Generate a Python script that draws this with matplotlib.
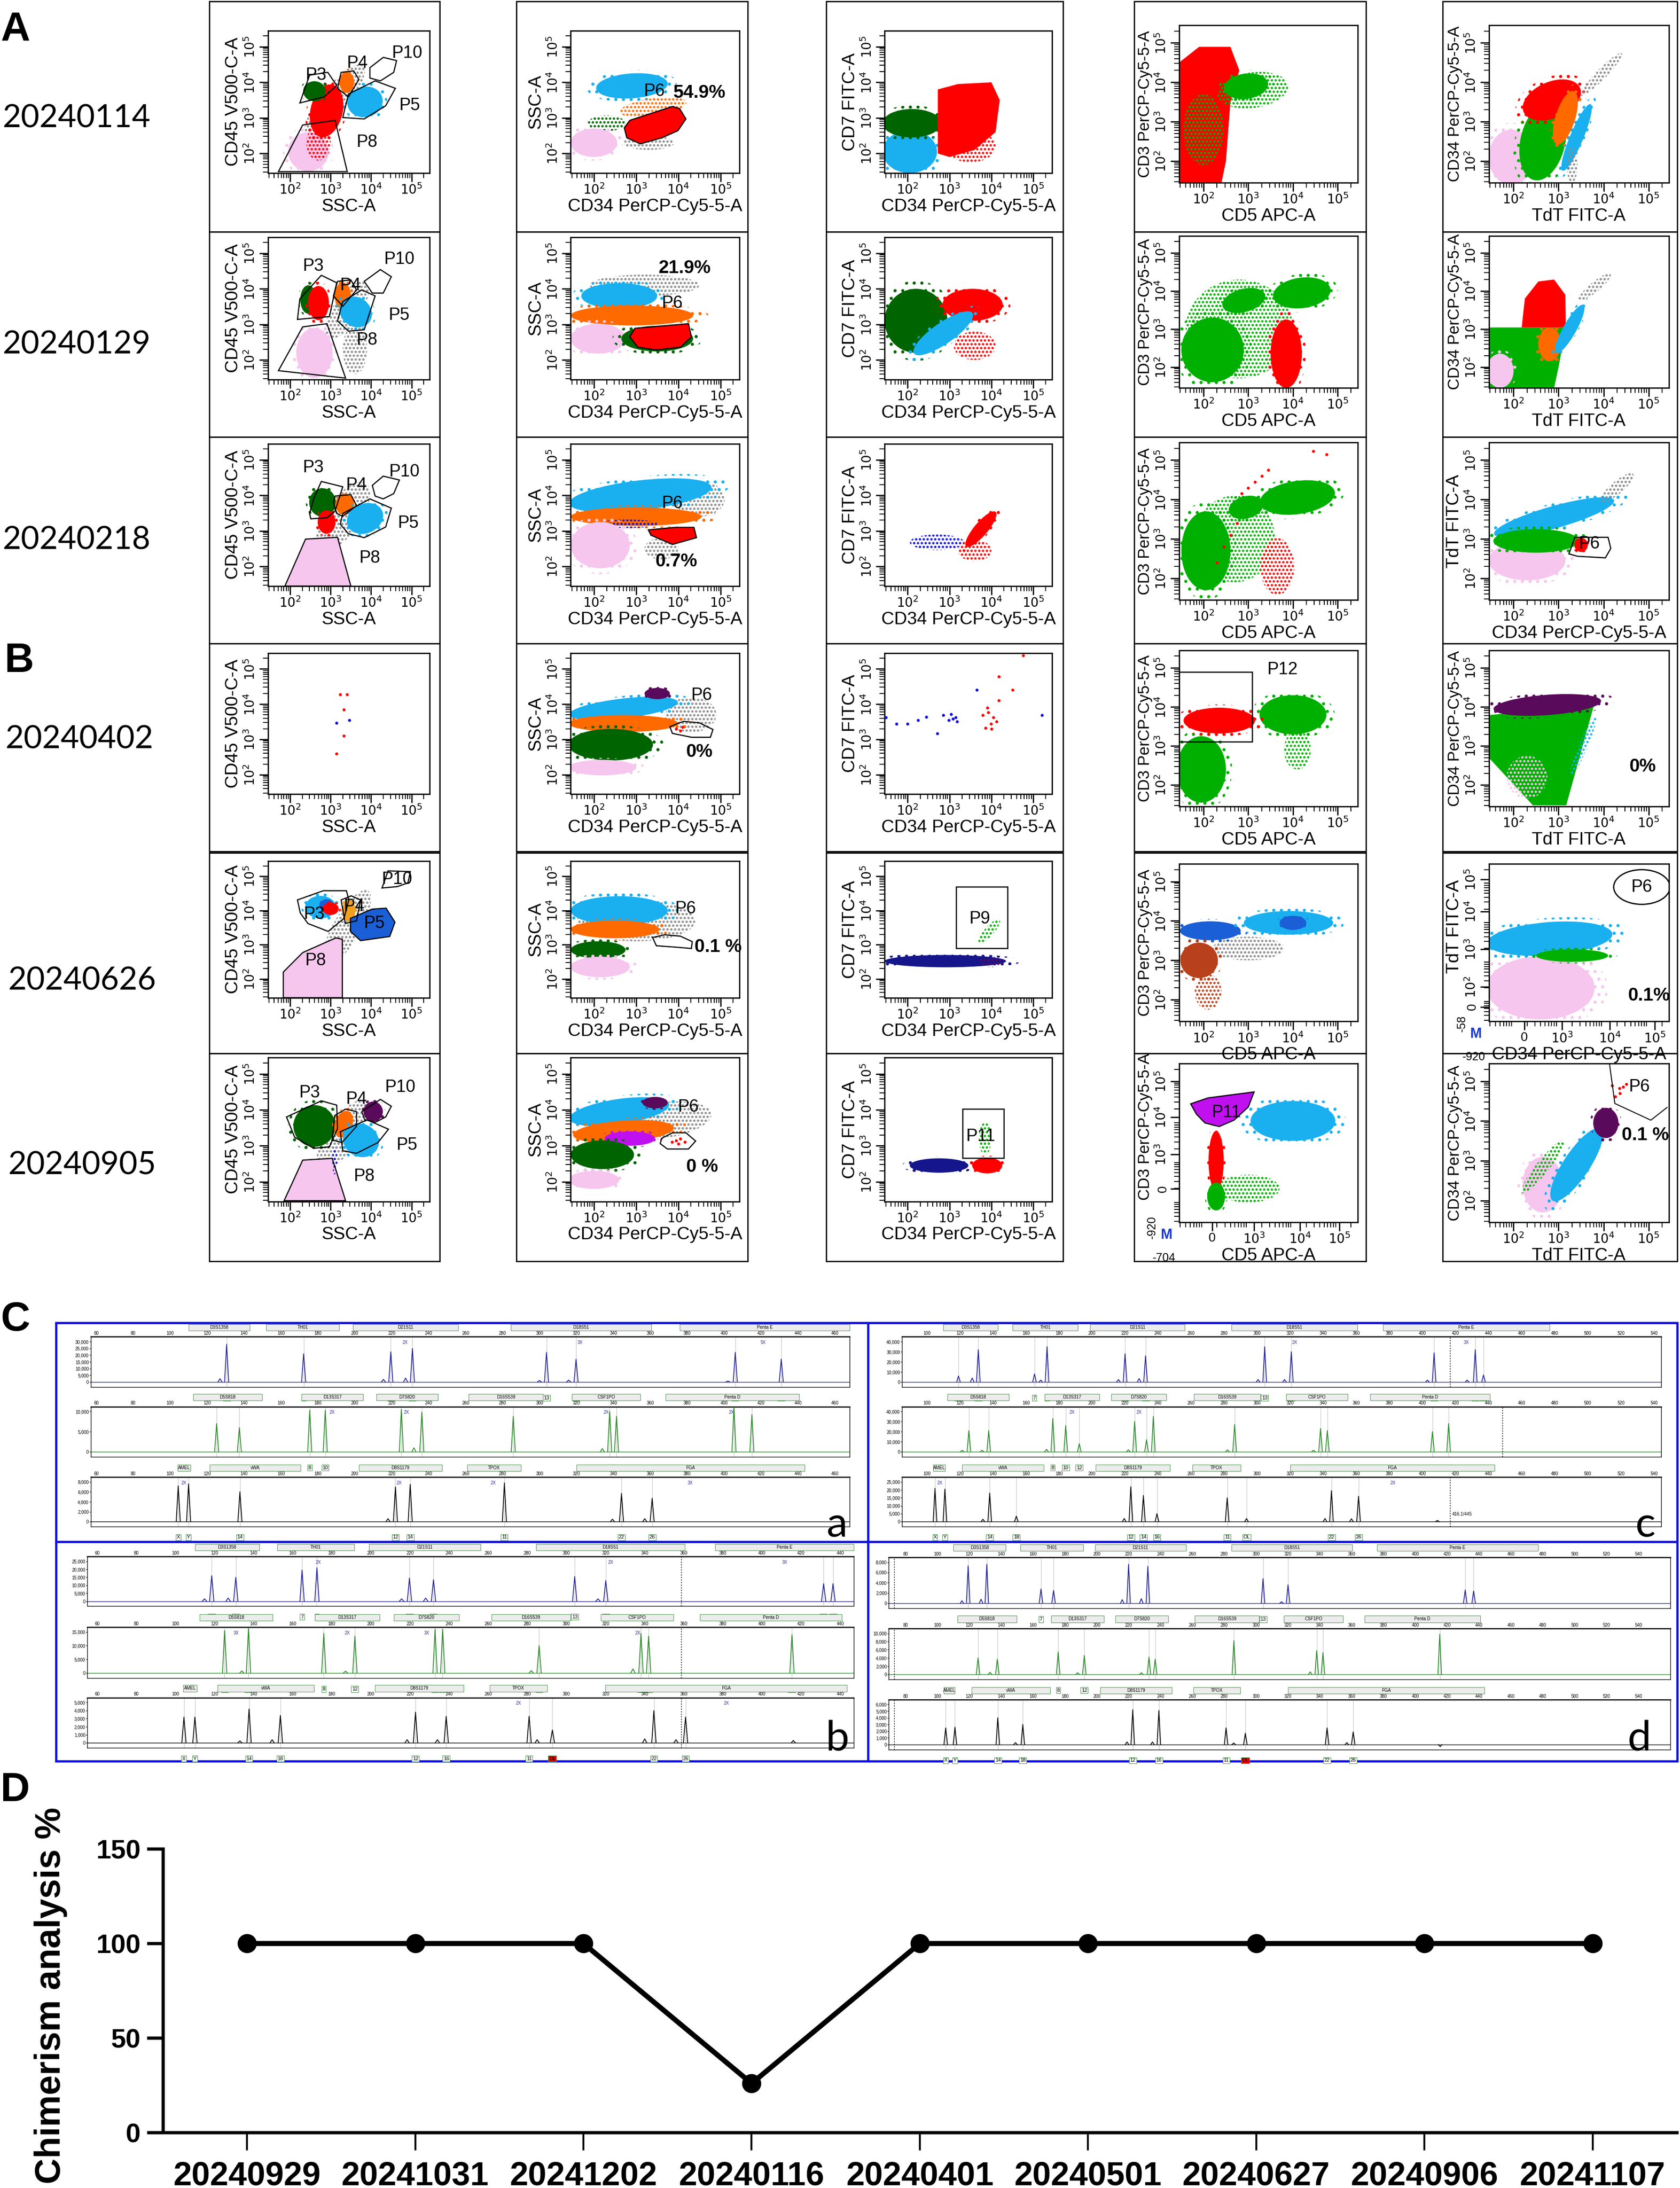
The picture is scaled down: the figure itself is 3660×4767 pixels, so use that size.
import numpy as np
import matplotlib
matplotlib.use("Agg")
import matplotlib.pyplot as plt
from matplotlib import font_manager
from matplotlib.patches import Ellipse, Polygon, Rectangle
from matplotlib.transforms import blended_transform_factory

installed = {f.name for f in font_manager.fontManager.ttflist}
NARROW = 'Liberation Sans Narrow' if 'Liberation Sans Narrow' in installed else 'Liberation Sans'
plt.rcParams['font.family'] = ['Liberation Sans', 'DejaVu Sans']
plt.rcParams['hatch.linewidth'] = 2.5

# colours of the gated populations
RED, DKG, LBL, ORG, PNK = '#ff0000', '#006400', '#1ab0f0', '#ff6a00', '#f6c6ee'
GRY, GRN, BLU, PUR, MAG = '#8c8c8c', '#00b000', '#1010e0', '#5a0a5a', '#c010f0'
DBL, NAV, BRN, AMB = '#1a5fd6', '#16168c', '#b8401a', '#f0a020'

# -------------------------
# Panel A/B: flow cytometry (log10 units, axis 10^1.45 .. 10^5.45)
# pops: (colour, style, ellipse (cx, cy, rx, ry, angle) or polygon points)
# -------------------------
row_dates = ['20240114', '20240129', '20240218', '20240402', '20240626', '20240905']
x_labels = ['SSC-A', 'CD34 PerCP-Cy5-5-A', 'CD34 PerCP-Cy5-5-A', 'CD5 APC-A']
y_labels = ['CD45 V500-C-A', 'SSC-A', 'CD7 FITC-A', 'CD3 PerCP-Cy5-5-A']
c5_x_labels = ['TdT FITC-A', 'TdT FITC-A', 'CD34 PerCP-Cy5-5-A', 'TdT FITC-A', 'CD34 PerCP-Cy5-5-A', 'TdT FITC-A']
c5_y_labels = ['CD34 PerCP-Cy5-5-A', 'CD34 PerCP-Cy5-5-A', 'TdT FITC-A', 'CD34 PerCP-Cy5-5-A', 'TdT FITC-A', 'CD34 PerCP-Cy5-5-A']

# row 1 : 20240114
pops_r1c1 = [(GRY, 'd', (3.1, 3.5, 1.2, 0.35, 55)), (PNK, 's', (2.45, 2.05, 0.5, 0.55, 0)),
             (RED, 'd', (2.7, 2.3, 0.3, 0.5, 0)), (RED, 's', (2.9, 3.2, 0.4, 0.75, -10)),
             (DKG, 's', (2.6, 3.75, 0.28, 0.28, 0)), (ORG, 's', (3.4, 4.0, 0.18, 0.3, 0)),
             (LBL, 's', (3.85, 3.45, 0.45, 0.42, 40))]
gates_r1c1 = [[(2.24, 3.42), (2.48, 4.2), (2.93, 4.28), (3.15, 3.91), (2.84, 3.59)],
              [(3.17, 3.83), (3.26, 4.28), (3.57, 4.32), (3.7, 4.08), (3.44, 3.59)],
              [(3.97, 4.41), (4.3, 4.7), (4.63, 4.61), (4.56, 4.28), (4.23, 4.04), (3.97, 4.12)],
              [(3.3, 3.01), (3.44, 3.67), (4.1, 4.04), (4.6, 3.83), (4.36, 3.34), (3.83, 2.97)],
              [(1.71, 1.49), (2.31, 2.8), (3.11, 2.93), (3.41, 1.49)]]
notes_r1c1 = [(2.64, 4.2, 'P3', 'normal'), (3.67, 4.53, 'P4', 'normal'), (4.89, 4.82, 'P10', 'normal'),
              (4.96, 3.34, 'P5', 'normal'), (3.9, 2.31, 'P8', 'normal')]
p6_r1c2 = [(2.72, 2.72), (2.85, 2.93), (3.86, 3.32), (4.03, 3.26), (4.18, 2.97), (3.99, 2.64),
           (3.61, 2.44), (3.10, 2.27), (2.78, 2.44)]
pops_r1c2 = [(LBL, 's', (2.9, 3.9, 0.85, 0.35, 5)), (ORG, 'd', (3.4, 3.3, 0.8, 0.25, 10)),
             (DKG, 'd', (2.3, 2.85, 0.45, 0.22, 0)), (PNK, 's', (2.0, 2.3, 0.55, 0.4, 0)),
             (GRY, 'd', (3.3, 2.3, 0.6, 0.2, 0)), (RED, 's', p6_r1c2)]
gates_r1c2 = [p6_r1c2]
notes_r1c2 = [(3.44, 3.75, 'P6', 'normal'), (4.5, 3.71, '54.9%', 'bold')]
pops_r1c3 = [(LBL, 's', (2.05, 2.05, 0.65, 0.6, 0)), (DKG, 's', (2.1, 2.85, 0.7, 0.4, 0)),
             (RED, 'd', (3.5, 2.2, 0.6, 0.45, 0)),
             (RED, 's', [(2.72, 2.0), (2.72, 3.8), (3.2, 3.95), (4.0, 4.0), (4.2, 3.5), (4.1, 2.6), (3.6, 2.1), (3.0, 1.9)])]
pops_r1c4 = [(RED, 's', [(1.45, 1.45), (1.45, 4.5), (1.9, 4.9), (2.6, 4.9), (2.8, 4.3), (2.6, 3.5), (2.5, 2.0), (2.4, 1.45)]),
             (GRN, 'd', (2.0, 2.8, 0.45, 0.9, 0)), (GRN, 'd', (3.1, 3.8, 0.8, 0.45, 10)),
             (GRN, 's', (2.95, 3.9, 0.5, 0.32, 10))]
pops_r1c5 = [(PNK, 's', (1.95, 2.1, 0.5, 0.7, 0)), (GRN, 's', (2.65, 2.5, 0.5, 1.0, -10)),
             (RED, 's', (2.85, 3.55, 0.7, 0.45, 30)), (ORG, 's', (3.15, 3.1, 0.22, 0.7, -15)),
             (LBL, 's', (3.4, 2.6, 0.15, 0.9, -20)), (GRY, 'd', (3.95, 4.2, 0.7, 0.12, 50)),
             (GRY, 'd', (3.3, 1.9, 0.12, 0.45, 0))]

# row 2 : 20240129
pops_r2c1 = [(GRY, 'd', (3.4, 3.4, 0.9, 0.35, 60)), (PNK, 's', (2.6, 2.2, 0.45, 0.7, 0)),
             (GRY, 'd', (3.6, 2.3, 0.3, 0.7, 0)), (DKG, 's', (2.45, 3.7, 0.2, 0.4, 0)),
             (RED, 's', (2.7, 3.6, 0.26, 0.48, 0)), (ORG, 's', (3.3, 3.8, 0.2, 0.38, 0)),
             (LBL, 's', (3.62, 3.35, 0.38, 0.45, 30))]
gates_r2c1 = [[(2.18, 3.14), (2.24, 3.72), (2.77, 4.38), (3.15, 4.17), (2.97, 3.22)],
              [(3.07, 3.8), (3.17, 4.21), (3.5, 4.25), (3.64, 3.97), (3.3, 3.51)],
              [(3.83, 4.21), (4.23, 4.54), (4.5, 4.34), (4.3, 3.88), (4.03, 3.88)],
              [(3.17, 3.1), (3.3, 3.64), (3.77, 3.97), (4.1, 3.8), (3.83, 2.85), (3.44, 2.81)],
              [(1.71, 1.7), (2.31, 2.93), (2.91, 3.02), (3.37, 1.49)]]
notes_r2c1 = [(2.58, 4.63, 'P3', 'normal'), (3.5, 4.09, 'P4', 'normal'), (4.7, 4.83, 'P10', 'normal'),
              (4.7, 3.26, 'P5', 'normal'), (3.9, 2.56, 'P8', 'normal')]
p6_r2c2 = [(2.85, 2.65), (2.97, 2.89), (4.24, 3.02), (4.31, 2.65), (4.05, 2.36), (3.48, 2.28), (3.04, 2.36)]
pops_r2c2 = [(GRY, 'd', (3.2, 4.1, 1.3, 0.3, 0)), (LBL, 's', (2.6, 3.8, 0.9, 0.36, 0)),
             (ORG, 's', (2.9, 3.25, 1.45, 0.28, 0)), (PNK, 's', (2.1, 2.6, 0.65, 0.42, 0)),
             (DKG, 's', (3.5, 2.6, 0.85, 0.36, 0)), (RED, 's', p6_r2c2)]
gates_r2c2 = [p6_r2c2]
notes_r2c2 = [(3.86, 3.59, 'P6', 'normal'), (4.15, 4.58, '21.9%', 'bold')]
pops_r2c3 = [(DKG, 's', (2.2, 3.1, 0.75, 0.9, 0)), (RED, 's', (3.55, 3.55, 0.72, 0.45, 0)),
             (LBL, 's', (2.85, 2.75, 0.9, 0.28, 40)), (RED, 'd', (3.6, 2.4, 0.5, 0.4, 0))]
pops_r2c4 = [(GRN, 'd', (2.8, 3.0, 1.2, 1.3, 0)), (GRN, 's', (4.2, 3.95, 0.65, 0.4, 10)),
             (GRN, 's', (2.9, 3.75, 0.5, 0.3, 20)), (GRN, 's', (2.2, 2.45, 0.7, 0.85, 0)),
             (RED, 's', (3.85, 2.35, 0.35, 0.9, 0))]
pops_r2c5 = [(GRN, 's', [(1.45, 1.45), (1.45, 3.04), (3.16, 3.04), (3.0, 2.0), (2.9, 1.45)]),
             (PNK, 's', (1.7, 1.9, 0.3, 0.45, 0)), (ORG, 's', (2.8, 2.6, 0.25, 0.45, 0)),
             (RED, 's', [(2.18, 3.04), (2.25, 3.8), (2.55, 4.25), (2.9, 4.3), (3.15, 3.9), (3.16, 3.04)]),
             (LBL, 's', (3.25, 3.0, 0.15, 0.7, -25)), (GRY, 'd', (3.8, 4.1, 0.5, 0.12, 45))]

# row 3 : 20240218
p8_r3c1 = [(1.87, 1.45), (2.38, 2.77), (3.17, 2.82), (3.5, 1.45)]
pops_r3c1 = [(GRY, 'd', (3.3, 3.4, 1.1, 0.45, 60)), (PNK, 's', p8_r3c1),
             (DKG, 's', (2.8, 3.8, 0.33, 0.4, 0)), (RED, 's', (2.9, 3.25, 0.22, 0.33, 0)),
             (ORG, 's', (3.35, 3.75, 0.23, 0.3, 0)), (LBL, 's', (3.85, 3.35, 0.48, 0.4, 40))]
gates_r3c1 = [[(2.48, 3.49), (2.58, 3.9), (2.77, 4.39), (3.3, 4.24), (3.11, 3.56), (2.91, 3.37), (2.51, 3.34)],
              [(3.07, 3.79), (3.11, 3.98), (3.5, 4.02), (3.64, 3.71), (3.3, 3.41), (3.15, 3.49)],
              [(4.03, 4.28), (4.3, 4.54), (4.7, 4.43), (4.56, 4.05), (4.3, 3.9), (4.1, 3.98)],
              [(3.24, 3.19), (3.3, 3.49), (3.97, 3.9), (4.5, 3.64), (4.36, 3.11), (3.83, 2.81), (3.44, 2.92)],
              p8_r3c1]
notes_r3c1 = [(2.58, 4.77, 'P3', 'normal'), (3.64, 4.28, 'P4', 'normal'), (4.83, 4.66, 'P10', 'normal'),
              (4.92, 3.22, 'P5', 'normal'), (3.97, 2.24, 'P8', 'normal')]
p6_r3c2 = [(3.29, 3.03), (3.35, 2.88), (3.86, 2.62), (4.43, 2.81), (4.37, 3.10), (3.93, 3.10)]
pops_r3c2 = [(GRY, 'd', (4.5, 3.9, 0.6, 0.5, 0)), (LBL, 's', (3.1, 4.0, 1.7, 0.42, 8)),
             (ORG, 's', (3.0, 3.4, 1.55, 0.26, 0)), (BLU, 'd', (2.8, 3.2, 0.7, 0.12, 0)),
             (PNK, 's', (2.15, 2.6, 0.7, 0.65, 0)), (GRY, 'd', (3.6, 2.5, 0.4, 0.3, 0)),
             (RED, 's', p6_r3c2)]
gates_r3c2 = [p6_r3c2]
notes_r3c2 = [(3.86, 3.77, 'P6', 'normal'), (3.95, 2.14, '0.7%', 'bold')]
pops_r3c3 = [(BLU, 'd', (2.7, 2.68, 0.65, 0.22, 0)), (RED, 'd', (3.6, 2.45, 0.4, 0.3, 0)),
             (RED, 's', (3.75, 3.05, 0.6, 0.17, 55))]
pops_r3c4 = [(GRN, 'd', (2.7, 3.0, 0.9, 1.1, 0)), (GRN, 's', (4.1, 4.05, 0.85, 0.42, 10)),
             (GRN, 's', (2.05, 2.7, 0.55, 1.0, 0)), (GRN, 's', (2.95, 3.8, 0.4, 0.28, 20)),
             (RED, 'd', (3.65, 2.3, 0.38, 0.72, 0))]
dots_r3c4 = [(RED, [(2.85, 4.15), (3.0, 4.3), (3.15, 4.45), (3.3, 4.6), (3.45, 4.75), (4.45, 5.22),
                    (4.75, 5.15), (2.6, 3.1), (2.45, 2.8), (2.3, 2.4), (2.75, 3.4)])]
p6_r3c5 = [(3.23, 2.62), (3.36, 3.04), (4.1, 3.04), (4.16, 2.76), (4.04, 2.52), (3.42, 2.56)]
pops_r3c5 = [(LBL, 's', (2.9, 3.55, 1.4, 0.28, 18)), (GRY, 'd', (4.3, 4.3, 0.5, 0.15, 45)),
             (PNK, 's', (2.3, 2.45, 0.85, 0.5, 0)), (GRN, 's', (2.5, 2.95, 0.95, 0.3, 0)),
             (RED, 's', (3.5, 2.85, 0.15, 0.18, 0))]
gates_r3c5 = [p6_r3c5]
notes_r3c5 = [(3.69, 2.87, 'P6', 'normal')]

# row 4 : 20240402
dots_r4c1 = [(RED, [(3.23, 4.27), (3.40, 4.27), (3.33, 3.84), (3.33, 3.1), (3.14, 2.59)]),
             (BLU, [(3.14, 3.47), (3.46, 3.54)])]
p6_r4c2 = [(3.8, 3.36), (4.12, 3.51), (4.5, 3.47), (4.82, 3.28), (4.76, 3.06), (4.31, 3.06), (3.86, 3.17)]
pops_r4c2 = [(GRY, 'd', (4.3, 3.7, 0.6, 0.5, 0)), (LBL, 's', (2.7, 3.88, 1.3, 0.28, 8)),
             (PUR, 's', (3.5, 4.3, 0.3, 0.16, 0)), (ORG, 's', (2.7, 3.45, 1.3, 0.24, 0)),
             (DKG, 's', (2.4, 2.85, 1.0, 0.45, 0)), (PNK, 's', (2.2, 2.2, 0.8, 0.22, 0))]
gates_r4c2 = [p6_r4c2]
notes_r4c2 = [(4.56, 4.25, 'P6', 'normal'), (4.5, 2.65, '0%', 'bold')]
dots_r4c2 = [(RED, [(3.95, 3.3), (4.05, 3.25), (4.1, 3.35)])]
dots_r4c3 = [(BLU, [(1.48, 3.62), (1.73, 3.44), (1.99, 3.44), (2.25, 3.55), (2.45, 3.64), (2.71, 3.17),
                    (2.85, 3.69), (2.98, 3.55), (3.04, 3.71), (3.18, 3.51), (3.08, 3.58), (3.15, 3.62),
                    (3.65, 4.4), (5.21, 3.69)]),
             (RED, [(3.79, 3.69), (3.92, 3.77), (4.05, 3.62), (3.99, 3.44), (3.86, 3.32), (4.12, 3.51),
                    (4.18, 4.1), (4.18, 4.78), (4.51, 4.4), (4.76, 5.38), (3.9, 3.9), (4.0, 3.3)])]
pops_r4c4 = [(GRN, 's', (1.95, 2.4, 0.55, 0.85, 0)), (GRN, 's', (4.0, 3.8, 0.75, 0.5, 0)),
             (GRN, 'd', (4.1, 2.9, 0.3, 0.5, 0)), (RED, 's', (2.35, 3.65, 0.8, 0.33, 0))]
gates_r4c4 = [[(1.45, 3.11), (3.09, 3.11), (3.09, 4.9), (1.45, 4.9)]]
notes_r4c4 = [(3.77, 4.95, 'P12', 'normal')]
pops_r4c5 = [(GRN, 's', [(1.45, 3.79), (3.79, 4.06), (3.17, 1.48), (2.43, 1.48), (1.45, 2.7)]),
             (PNK, 'd', (2.3, 2.2, 0.45, 0.55, 0)), (PUR, 's', (2.75, 4.05, 1.2, 0.26, 5)),
             (LBL, 'd', (3.55, 3.0, 0.1, 0.8, -20))]
notes_r4c5 = [(4.87, 2.47, '0%', 'bold')]

# row 5 : 20240626
p8_r5c1 = [(1.83, 1.45), (1.83, 2.2), (2.31, 2.77), (3.13, 3.2), (3.29, 3.16), (3.29, 1.45)]
p5_r5c1 = [(3.49, 3.77), (4.02, 4.04), (4.37, 4.07), (4.59, 3.66), (4.46, 3.24), (3.74, 3.12), (3.49, 3.39)]
pops_r5c1 = [(GRY, 'd', (3.4, 3.5, 1.2, 0.35, 65)), (PNK, 's', p8_r5c1),
             (LBL, 's', (2.75, 4.1, 0.38, 0.33, 0)), (DBL, 's', (2.9, 4.15, 0.18, 0.18, 0)),
             (RED, 's', (3.0, 4.05, 0.2, 0.18, 0)), (AMB, 's', (3.45, 4.0, 0.16, 0.32, 0)),
             (DBL, 's', p5_r5c1)]
gates_r5c1 = [[(2.18, 4.31), (2.82, 4.58), (3.39, 4.58), (3.45, 4.31), (3.33, 3.77), (2.94, 3.39), (2.44, 3.62), (2.25, 3.93)],
              [(3.26, 4.31), (3.51, 4.43), (3.74, 4.31), (3.64, 3.7), (3.36, 3.62)],
              [(4.27, 4.66), (4.42, 5.16), (4.97, 5.14), (4.91, 4.81), (4.65, 4.7)],
              p8_r5c1, p5_r5c1]
notes_r5c1 = [(2.6, 3.89, 'P3', 'normal'), (3.58, 4.12, 'P4', 'normal'), (4.08, 3.62, 'P5', 'normal'),
              (4.65, 4.91, 'P10', 'normal'), (2.63, 2.54, 'P8', 'normal')]
pops_r5c2 = [(GRY, 'd', (3.0, 3.7, 1.4, 0.6, 0)), (LBL, 's', (2.6, 4.0, 1.15, 0.42, 0)),
             (ORG, 's', (2.5, 3.45, 1.05, 0.26, 0)), (DKG, 's', (2.1, 2.85, 0.65, 0.25, 0)),
             (PNK, 's', (2.15, 2.35, 0.7, 0.3, 0))]
gates_r5c2 = [[(3.39, 3.21), (3.67, 3.29), (4.05, 3.25), (4.33, 3.09), (4.31, 2.89), (3.93, 2.93), (3.48, 2.97)]]
notes_r5c2 = [(4.18, 4.05, 'P6', 'normal'), (4.94, 2.93, '0.1 %', 'bold')]
pops_r5c3 = [(NAV, 's', (2.9, 2.52, 1.45, 0.18, 0)), (PUR, 'd', (4.0, 2.5, 0.3, 0.15, 0)),
             (GRN, 'd', (3.95, 3.4, 0.42, 0.12, 55))]
gates_r5c3 = [[(3.16, 2.89), (4.39, 2.89), (4.39, 4.7), (3.16, 4.7)]]
notes_r5c3 = [(3.73, 3.75, 'P9', 'normal')]
pops_r5c4 = [(GRY, 'd', (3.0, 3.3, 0.8, 0.3, 0)), (DBL, 's', (2.15, 3.75, 0.68, 0.24, 0)),
             (LBL, 's', (3.9, 3.95, 1.0, 0.3, 0)), (DBL, 's', (4.0, 3.95, 0.3, 0.18, 0)),
             (BRN, 'd', (2.1, 2.2, 0.3, 0.45, 0)), (BRN, 's', (1.9, 3.0, 0.42, 0.45, 0))]
pops_r5c5 = [(PNK, 's', (2.6, 2.3, 1.2, 0.8, 0)), (LBL, 's', (2.8, 3.55, 1.4, 0.42, 5)),
             (GRN, 's', (3.3, 3.12, 0.8, 0.16, 0))]
circle_r5c5 = (4.85, 4.86, 1.25, 0.88)
notes_r5c5 = [(4.85, 4.86, 'P6', 'normal'), (5.01, 2.11, '0.1%', 'bold')]
xt_r5c5 = [(2.24, '0'), (3.08, '$10^{3}$'), (4.14, '$10^{4}$'), (5.14, '$10^{5}$')]
yt_r5c5 = [(1.82, '0'), (2.33, '$10^{2}$'), (3.28, '$10^{3}$'), (4.24, '$10^{4}$'), (5.05, '$10^{5}$')]

# row 6 : 20240905
p8_r6c1 = [(1.85, 1.47), (2.31, 2.6), (3.04, 2.65), (3.37, 1.47)]
pops_r6c1 = [(GRY, 'd', (3.3, 3.3, 1.1, 0.4, 60)), (PNK, 's', p8_r6c1),
             (DKG, 's', (2.6, 3.55, 0.52, 0.58, 0)), (ORG, 's', (3.32, 3.6, 0.22, 0.38, -15)),
             (PUR, 's', (4.05, 3.95, 0.24, 0.28, 0)), (LBL, 's', (3.75, 3.15, 0.43, 0.48, 30)),
             (BLU, 'd', (3.1, 2.6, 0.06, 0.4, 0))]
gates_r6c1 = [[(1.91, 3.8), (2.77, 4.25), (3.15, 4.13), (3.17, 3.48), (2.97, 2.97), (2.58, 2.93), (2.11, 3.24)],
              [(3.1, 3.84), (3.37, 4.02), (3.64, 3.95), (3.64, 3.54), (3.28, 3.09), (3.04, 3.16)],
              [(3.77, 3.95), (4.23, 4.29), (4.5, 4.1), (4.36, 3.8), (4.1, 3.65), (3.84, 3.73)],
              [(3.24, 3.39), (3.9, 3.72), (4.43, 3.46), (4.17, 3.09), (3.64, 2.79), (3.3, 2.86)],
              p8_r6c1]
notes_r6c1 = [(2.48, 4.47, 'P3', 'normal'), (3.64, 4.29, 'P4', 'normal'), (4.73, 4.62, 'P10', 'normal'),
              (4.89, 3.01, 'P5', 'normal'), (3.83, 2.15, 'P8', 'normal')]
pops_r6c2 = [(GRY, 'd', (3.6, 3.7, 1.2, 0.5, 10)), (LBL, 's', (2.6, 3.95, 1.2, 0.35, 10)),
             (PUR, 's', (3.45, 4.2, 0.3, 0.16, 0)), (ORG, 's', (2.7, 3.4, 1.2, 0.3, 5)),
             (MAG, 's', (2.85, 3.2, 0.6, 0.2, 0)), (DKG, 's', (2.2, 2.75, 0.75, 0.4, 0)),
             (PNK, 's', (2.0, 2.05, 0.6, 0.25, 0))]
gates_r6c2 = [[(3.61, 3.21), (3.86, 3.36), (4.18, 3.36), (4.41, 3.13), (4.24, 2.91), (3.74, 2.91), (3.57, 3.06)]]
notes_r6c2 = [(4.24, 4.07, 'P6', 'normal'), (4.56, 2.42, '0 %', 'bold')]
dots_r6c2 = [(RED, [(3.95, 3.15), (4.05, 3.2), (4.15, 3.1), (4.0, 3.05), (3.85, 3.1)])]
pops_r6c3 = [(NAV, 's', (2.75, 2.45, 0.7, 0.2, 0)), (RED, 's', (3.9, 2.45, 0.36, 0.22, 0)),
             (GRN, 'd', (3.85, 3.2, 0.15, 0.45, 0))]
gates_r6c3 = [[(3.31, 2.66), (4.3, 2.66), (4.3, 4.02), (3.31, 4.02)]]
notes_r6c3 = [(3.75, 3.26, 'P11', 'normal')]
p11_r6c4 = [(1.71, 4.43), (2.1, 4.58), (3.13, 4.73), (3.0, 4.35), (2.68, 4.02), (2.35, 3.86), (2.03, 3.95), (1.84, 4.17)]
pops_r6c4 = [(LBL, 's', (4.0, 4.0, 0.95, 0.5, 0)), (MAG, 's', p11_r6c4),
             (GRN, 'd', (3.0, 2.3, 0.7, 0.35, 0)), (RED, 's', (2.28, 3.0, 0.17, 0.75, 0)),
             (GRN, 's', (2.28, 2.1, 0.2, 0.35, 0))]
gates_r6c4 = [p11_r6c4]
notes_r6c4 = [(2.51, 4.21, 'P11', 'normal')]
xt_r6c4 = [(2.19, '0'), (3.13, '$10^{3}$'), (4.16, '$10^{4}$'), (5.04, '$10^{5}$')]
yt_r6c4 = [(2.29, '0'), (3.16, '$10^{3}$'), (4.1, '$10^{4}$'), (5.0, '$10^{5}$')]
pops_r6c5 = [(PNK, 's', (2.65, 2.4, 0.45, 0.7, 0)), (LBL, 's', (3.4, 2.9, 1.05, 0.3, 60)),
             (GRN, 'd', (2.65, 2.85, 0.8, 0.15, 55)), (PUR, 's', (4.05, 3.95, 0.28, 0.38, 0))]
open_r6c5 = [(4.13, 5.45), (4.25, 4.44), (5.05, 4.02), (5.41, 4.34)]
dots_r6c5 = [(RED, [(4.19, 4.89), (4.35, 4.82), (4.43, 4.86), (4.26, 4.62), (4.36, 4.69), (4.5, 4.93)])]
notes_r6c5 = [(4.8, 4.86, 'P6', 'normal'), (4.93, 3.64, '0.1 %', 'bold')]

# -------------------------
# Panel C: STR electropherograms, peaks as (size bp, height RFU)
# -------------------------
loci_blue = [(110, 143, 'D3S1358'), (152, 191.5, 'TH01'), (199, 256, 'D21S11'), (284.5, 360.5, 'D18S51'), (376, 477, 'Penta E')]
loci_green = [(112.5, 149.7, 'D5S818'), (171.3, 204.4, 'D13S317'), (211.7, 245, 'D7S820'), (261.7, 302, 'D16S539'),
              (317.6, 354.6, 'CSF1PO'), (368.2, 440.7, 'Penta D')]
loci_black = [(104, 111, 'AMEL'), (121.5, 170.8, 'vWA'), (202.2, 247.3, 'D8S1179'), (260.8, 290, 'TPOX'), (320, 443.5, 'FGA')]

a_blue_peaks = [(127, 2500), (130.6, 28000), (172.3, 21000), (215.5, 2000), (219.5, 22500), (227.5, 3000), (231.2, 25000),
                (300, 1200), (303.8, 22000), (315.8, 1500), (319.8, 17000), (402, 800), (406, 22000), (430.9, 17000)]
a_blue_calls = [(130.6, '17'), (172.3, '9'), (219.5, '29'), (231.2, '32'), (303.8, '13'), (319.8, '17'), (406, '11'), (430.9, '16')]
a_blue_marks = [(227.3, '2X'), (322, '3X'), (421, '5X')]
a_blue_yticks = [0, 5000, 10000, 15000, 20000, 25000, 30000]
a_green_peaks = [(125.2, 7000), (137.5, 6000), (175.6, 10300), (184, 10300), (225.2, 10500), (232, 1000), (236.3, 9800),
                 (285.8, 8800), (334, 800), (338, 10000), (341.7, 8800), (405.3, 11000), (415, 9200)]
a_green_calls = [(125.2, '10'), (137.5, '13'), (175.6, '8'), (184, '10'), (225.2, '9.1'), (236.3, '12'), (285.8, '11'),
                 (338, '11'), (341.7, '12'), (405.3, '10'), (415, '12')]
a_green_marks = [(187.6, '2X'), (228, '2X'), (336, '2X'), (404, '2X')]
a_green_yticks = [0, 5000, 10000]
a_black_peaks = [(104.4, 7200), (110, 7600), (137.8, 6000), (218, 600), (222, 7000), (230, 7500), (281, 7800),
                 (339.5, 500), (344.4, 5700), (357, 600), (361, 4700)]
a_black_calls = [(104.4, 'X'), (110, 'Y'), (137.8, '14'), (222, '12'), (230, '14'), (281, '11'), (344.4, '22'), (361, '26')]
a_black_marks = [(107.4, '2X'), (224, '2X'), (275, '2X'), (381.6, '3X')]
a_black_yticks = [0, 2000, 4000, 6000, 8000]

b_blue_peaks = [(114.9, 1500), (118.6, 16000), (127, 2000), (130.9, 15000), (164.8, 19500), (172.4, 21000), (215.7, 1500),
                (219.7, 14500), (228, 2000), (232, 13500), (304.2, 15500), (316.1, 1500), (320.1, 13000), (431.5, 11000), (436.3, 11000)]
b_blue_calls = [(118.6, '14'), (130.9, '17'), (164.8, '7'), (172.4, '9'), (219.7, '29'), (232, '32'), (304.2, '13'),
                (320.1, '17'), (431.5, '16'), (436.3, '17')]
b_blue_marks = [(173, '2X'), (322.7, '2X'), (411.6, '3X')]
b_blue_yticks = [0, 5000, 10000, 15000, 20000, 25000]
b_green_peaks = [(125.2, 15500), (134, 800), (137.4, 16500), (175.9, 14500), (187, 700), (191.8, 13500), (232.8, 16000),
                 (236.7, 16000), (282, 900), (286, 10000), (334, 1500), (338.1, 14500), (342, 13500), (415.3, 14000)]
b_green_calls = [(125.2, '10'), (137.4, '13'), (175.9, '8'), (191.8, '12'), (232.8, '11'), (236.7, '12'), (286, '11'),
                 (338.1, '11'), (342, '12'), (415.3, '12')]
b_green_marks = [(131.2, '3X'), (187.8, '2X'), (228.5, '3X'), (336.4, '2X')]
b_green_yticks = [0, 5000, 10000, 15000]
b_black_peaks = [(104.4, 3200), (110, 3200), (133, 250), (137.7, 4200), (149.5, 400), (153.7, 3400), (218.5, 400),
                 (222.8, 3800), (234, 400), (238.5, 3300), (280.9, 3300), (285, 400), (292.8, 1600), (340, 500),
                 (344.7, 4000), (356, 400), (360.9, 3200), (416, 300)]
b_black_calls = [(104.4, 'X'), (110, 'Y'), (137.7, '14'), (153.7, '18'), (222.8, '12'), (238.5, '16'), (280.9, '11'),
                 (292.8, 'OL'), (344.7, '22'), (360.9, '26')]
b_black_marks = [(275.5, '2X'), (381.7, '2X')]
b_black_yticks = [0, 1000, 2000, 3000, 4000, 5000]

c_blue_peaks = [(119.2, 6000), (127.5, 4000), (131.2, 32000), (165.2, 8000), (169, 2000), (172.8, 35000), (216, 2500),
                (220, 28000), (228.5, 3500), (232.4, 26000), (300.5, 2500), (304.5, 35000), (316.5, 2500), (320.6, 30000),
                (403, 2000), (407, 29000), (427, 2000), (431.9, 32000), (436.9, 7000)]
c_blue_calls = [(119.2, '14'), (131.2, '17'), (165.2, '7'), (172.8, '9'), (220, '29'), (232.4, '32'), (304.5, '13'),
                (320.6, '17'), (407, '11'), (431.9, '16'), (436.9, '17')]
c_blue_marks = [(322.5, '2X'), (426.5, '3X')]
c_blue_yticks = [0, 10000, 20000, 30000, 40000]
c_green_peaks = [(121.5, 1500), (125.5, 21000), (133.5, 1500), (137.5, 21000), (172.5, 2500), (176.3, 33000), (184.1, 26000),
                 (192.3, 8000), (222, 2000), (225.8, 30000), (233, 12000), (237.1, 35000), (282, 2000), (286.3, 27000),
                 (334, 1500), (338.3, 23000), (342.4, 21000), (406, 20000), (415.8, 28000)]
c_green_calls = [(125.5, '10'), (137.5, '13'), (176.3, '8'), (184.1, '10'), (192.3, '12'), (225.8, '9.1'), (233, '11'),
                 (237.1, '12'), (286.3, '11'), (338.3, '11'), (342.4, '12'), (406, '10'), (415.8, '12')]
c_green_marks = [(188, '2X'), (228.6, '2X')]
c_green_yticks = [0, 10000, 20000, 30000, 40000]
c_black_peaks = [(105, 21000), (111, 20500), (134, 1500), (138.1, 18000), (154.2, 3500), (219.5, 2000), (223.5, 22000),
                 (231.1, 16500), (239.3, 5000), (281.8, 15000), (293.5, 2000), (341, 2000), (344.9, 19500), (357, 1800),
                 (361.3, 16000), (409, 800)]
c_black_calls = [(105, 'X'), (111, 'Y'), (138.1, '14'), (154.2, '18'), (223.5, '12'), (231.1, '14'), (239.3, '16'),
                 (281.8, '11'), (293.5, 'OL'), (344.9, '22'), (361.3, '26')]
c_black_marks = [(107.9, '2X'), (382, '2X')]
c_black_yticks = [0, 5000, 10000, 15000, 20000, 25000]

d_blue_peaks = [(115.4, 500), (119.3, 7300), (127.4, 800), (131, 7600), (165, 2800), (172.9, 2500), (216, 700), (220, 7600),
                (228, 900), (232.1, 7200), (304.4, 4800), (316, 300), (320.1, 3600), (431.3, 2600), (436.6, 2400)]
d_blue_calls = [(119.3, '14'), (131, '17'), (165, '7'), (172.9, '9'), (220, '29'), (232.1, '32'), (304.4, '13'),
                (320.1, '17'), (431.3, '16'), (436.6, '17')]
d_blue_yticks = [0, 2000, 4000, 6000, 8000]
d_green_peaks = [(125.5, 4000), (133, 500), (137.6, 3700), (175.8, 5500), (188, 400), (192.2, 4600), (228, 400),
                 (232.8, 4200), (236.7, 3700), (286.1, 8200), (334, 600), (338.1, 5800), (342, 5300), (415.3, 9800)]
d_green_calls = [(125.5, '10'), (137.6, '13'), (175.8, '8'), (192.2, '12'), (232.8, '11'), (236.7, '12'), (286.1, '11'),
                 (338.1, '11'), (342, '12'), (415.3, '12')]
d_green_yticks = [0, 2000, 4000, 6000, 8000, 10000]
d_black_peaks = [(105.2, 2500), (111, 2600), (137.9, 4000), (149, 300), (153.6, 3000), (219, 400), (222.6, 5200),
                 (235, 400), (239, 5100), (281.2, 2500), (286, 250), (293.3, 1700), (344.6, 2500), (357, 300),
                 (361, 1900), (415.6, -300)]
d_black_calls = [(105.2, 'X'), (111, 'Y'), (137.9, '14'), (153.6, '18'), (222.6, '12'), (239, '16'), (281.2, '11'),
                 (293.3, 'OL'), (344.6, '22'), (361, '26')]
d_black_yticks = [0, 1000, 2000, 3000, 4000, 5000, 6000]

# -------------------------
# Panel D: chimerism
# -------------------------
chim_dates = ['20240929', '20241031', '20241202', '20240116', '20240401', '20240501', '20240627', '20240906', '20241107']
chim_values = [100, 100, 100, 26, 100, 100, 100, 100, 100]

# =========================================================
W, H = 1204.0, 1568.0   # layout grid = reference pixels / 3.04
fig = plt.figure(figsize=(36.6, 47.67), dpi=100)


def box(x0, y0, x1, y1):
    return [x0 / W, 1 - y1 / H, (x1 - x0) / W, (y1 - y0) / H]


bg = fig.add_axes([0, 0, 1, 1])
bg.set_xlim(0, W)
bg.set_ylim(H, 0)
bg.axis('off')

for txt, (x, y) in zip(['A', 'B', 'C', 'D'], [(11, 22), (14, 474), (11, 946), (11, 1283)]):
    bg.text(x, y, txt, fontsize=64, fontweight='bold', ha='center', va='center')
for d, x, y in zip(row_dates, [2, 2, 2, 4, 6, 6], [85, 247, 387, 530, 703, 835]):
    bg.text(x, y, d, fontsize=50, ha='left', va='center', family=['Lato', 'DejaVu Sans'])

# ---------- flow grid ----------
col_inner = [(192, 308), (409, 530), (634, 754), (845, 973), (1067, 1196)]
col_box = [(150, 315), (370, 536), (592, 762), (813, 979), (1034, 1202)]
row_inner_a = [(22, 124), (170, 272), (318, 420), (468, 569), (617, 715), (758, 861)]
row_inner_b = [(18, 131), (169, 278), (317, 430), (466, 578), (619, 732), (762, 876)]
row_box = [(1, 166), (166, 313), (313, 461), (461, 610), (611, 755), (755, 904)]

minor = [np.log10(k) + n for n in range(1, 6) for k in range(2, 10)]
minor = [m for m in minor if 1.45 < m < 5.45]
g = globals()

for r in range(6):
    for c in range(5):
        key = 'r%dc%d' % (r + 1, c + 1)
        bx0, bx1 = col_box[c]
        by0, by1 = row_box[r]
        bg.add_patch(Rectangle((bx0, by0), bx1 - bx0, by1 - by0, fill=False, ec='black', lw=2))
        ix0, ix1 = col_inner[c]
        iy0, iy1 = (row_inner_a if c < 3 else row_inner_b)[r]
        ax = fig.add_axes(box(ix0, iy0, ix1, iy1))
        ax.set_xlim(1.45, 5.45)
        ax.set_ylim(1.45, 5.45)
        for sp in ax.spines.values():
            sp.set_linewidth(2)

        for color, style, geom in g.get('pops_' + key, []):
            if isinstance(geom, list):
                ax.add_patch(Polygon(geom, closed=True, fc=color, ec='none', zorder=2))
                continue
            cx, cy, rx, ry, ang = geom
            if style == 's':
                ax.add_patch(Ellipse((cx, cy), 2.5 * rx, 2.5 * ry, angle=ang, fc='none', ec=color, lw=0,
                                     hatch='.', zorder=2))
                ax.add_patch(Ellipse((cx, cy), 2 * rx, 2 * ry, angle=ang, fc=color, ec='none', zorder=2))
            else:
                ax.add_patch(Ellipse((cx, cy), 2 * rx, 2 * ry, angle=ang, fc='none', ec=color, lw=0,
                                     hatch='..', zorder=2))
        for color, pts in g.get('dots_' + key, []):
            ax.scatter([p[0] for p in pts], [p[1] for p in pts], s=22, c=color, lw=0, zorder=3)
        for pts in g.get('gates_' + key, []):
            ax.add_patch(Polygon(pts, closed=True, fill=False, ec='black', lw=1.8, zorder=4))
        if key == 'r6c5':
            ax.plot([p[0] for p in open_r6c5], [p[1] for p in open_r6c5], color='black', lw=1.5, zorder=4)
        if key == 'r5c5':
            cx, cy, ww, hh = circle_r5c5
            ax.add_patch(Ellipse((cx, cy), ww, hh, fill=False, ec='black', lw=2, zorder=4))
        for x, y, s, wt in g.get('notes_' + key, []):
            ax.text(x, y, s, fontsize=29 if wt == 'bold' else 27, fontweight=wt, ha='center', va='center',
                    family=[NARROW, 'DejaVu Sans'], zorder=5)

        special = ('xt_' + key) in g
        if special:
            xt, yt = g['xt_' + key], g['yt_' + key]
            ax.set_xticks([t[0] for t in xt])
            ax.set_xticklabels([t[1] for t in xt])
            ax.set_yticks([t[0] for t in yt])
            ax.set_yticklabels([t[1] for t in yt], rotation=90, va='center')
            ax.text(-0.02, -0.19, '-920' if key == 'r5c5' else '-704', transform=ax.transAxes, fontsize=18,
                    ha='right', va='top', family=[NARROW, 'DejaVu Sans'])
            ax.text(-0.12, 0.04, '-58' if key == 'r5c5' else '-920', transform=ax.transAxes, fontsize=18,
                    rotation=90, ha='right', va='top', family=[NARROW, 'DejaVu Sans'])
            ax.text(-0.07, -0.08, 'M', transform=ax.transAxes, fontsize=22, color='#1a3ccc',
                    fontweight='bold', ha='center', va='center')
        else:
            ax.set_xticks([2, 3, 4, 5])
            ax.set_xticklabels(['$10^{%d}$' % k for k in [2, 3, 4, 5]])
            ax.set_yticks([2, 3, 4, 5])
            ax.set_yticklabels(['$10^{%d}$' % k for k in [2, 3, 4, 5]], rotation=90, va='center')
        ax.set_xticks(minor, minor=True)
        ax.set_yticks(minor, minor=True)
        ax.tick_params(which='major', direction='out', length=14, width=2.0, labelsize=20, pad=2)
        ax.tick_params(which='minor', direction='out', length=8, width=1.4)
        if c < 4:
            xl, yl = x_labels[c], y_labels[c]
        else:
            xl, yl = c5_x_labels[r], c5_y_labels[r]
        ax.set_xlabel(xl, fontsize=28, family=[NARROW, 'DejaVu Sans'], labelpad=2)
        ax.set_ylabel(yl, fontsize=25 if len(yl) > 14 else 28, labelpad=4)
        if special:
            ax.yaxis.label.set_y(0.6)

# ---------- panel C ----------
blue_c = '#1010e0'
bg.add_patch(Rectangle((40, 948), 1162, 314, fill=False, ec=blue_c, lw=3.5))
bg.plot([622, 622], [948, 1262], color=blue_c, lw=3.5)
bg.plot([40, 1202], [1105, 1105], color=blue_c, lw=3.5)

sub_x = {'a': (65, 609), 'b': (62.6, 612), 'c': (646.4, 1190.5), 'd': (637, 1197)}
sub_y = {'a': [(958, 994), (1008, 1044), (1058.6, 1094)], 'b': [(1115.5, 1151), (1166, 1202.6), (1216.6, 1252.6)],
         'c': [(958, 994), (1008, 1044), (1058.6, 1094)], 'd': [(1116, 1152.6), (1167, 1203.5), (1218, 1253.8)]}
sub_xlim = {'a': (57, 468), 'b': (55, 447), 'c': (85, 544.4), 'd': (69.5, 560)}
sub_ruler = {'a': range(60, 461, 20), 'b': range(60, 441, 20), 'c': range(100, 541, 20), 'd': range(80, 541, 20)}
sub_dash = {'a': [[], [], []], 'b': [[358.6]] * 3, 'c': [[416.7], [448.3], [416.7]], 'd': [[72.8]] * 3}
highlight = {('c', 0): {131.2: '#ffff3c', 172.8: '#ffff3c'}, ('b', 2): {292.8: '#e00000'}, ('d', 2): {293.3: '#e00000'}}
dye = ['#22229a', '#2a8a2a', '#000000']
loci_sets = [loci_blue, loci_green, loci_black]
letter_pos = {'a': (600, 1093), 'b': (600, 1246), 'c': (1179, 1093), 'd': (1175, 1246)}

for s in 'abcd':
    x0, x1 = sub_x[s]
    lo, hi = sub_xlim[s]
    for i, dname in enumerate(['blue', 'green', 'black']):
        peaks = g['%s_%s_peaks' % (s, dname)]
        calls = g['%s_%s_calls' % (s, dname)]
        marks = g.get('%s_%s_marks' % (s, dname), [])
        yticks = g['%s_%s_yticks' % (s, dname)]
        y0, y1 = sub_y[s][i]
        ax = fig.add_axes(box(x0, y0, x1, y1))
        top = yticks[-1] * 1.12
        ax.set_xlim(lo, hi)
        ax.set_ylim(-0.11 * top, top)
        tr = blended_transform_factory(ax.transData, ax.transAxes)
        for bp, lab in calls:
            ax.plot([bp, bp], [0, 1], color='#c8c8c8', lw=0.9, transform=tr, zorder=1)
        ax.plot([lo, hi], [0, 0], color=dye[i], lw=1.0, zorder=2)
        for bp, h in peaks:
            ax.plot([bp - 1.1, bp, bp + 1.1], [0, h, 0], color=dye[i], lw=1.3, zorder=3)
        for xd in sub_dash[s][i]:
            ax.plot([xd, xd], [0, 1], color='black', lw=1.0, ls=(0, (2, 2)), transform=tr)
        hl = highlight.get((s, i), {})
        for bp, lab in calls:
            ax.text(bp, -0.17, lab, transform=tr, ha='center', va='top', fontsize=8, clip_on=False,
                    bbox=dict(boxstyle='square,pad=0.15', fc=hl.get(bp, 'white'), ec='#4f9a4f', lw=0.8))
        for bp, lab in marks:
            ax.text(bp, 0.93, lab, transform=tr, ha='center', va='top', fontsize=7, color='#3030a0')
        for a0, a1, name in loci_sets[i]:
            a1 = min(a1, hi)
            ax.add_patch(Rectangle((a0, 1.12), a1 - a0, 0.13, transform=tr, fc='#ececec', ec='#5a9a5a',
                                   lw=0.8, clip_on=False))
            ax.text((a0 + a1) / 2, 1.185, name, transform=tr, ha='center', va='center', fontsize=7, clip_on=False)
        for v in sub_ruler[s]:
            ax.text(v, 1.02, str(v), transform=tr, ha='center', va='bottom', fontsize=7, clip_on=False)
        if s == 'c' and i == 2:
            ax.text(418, 0.2, '416.1/445', transform=tr, fontsize=7, ha='left', va='bottom')
        ax.set_xticks([])
        ax.set_yticks(yticks)
        ax.set_yticklabels(['{:,}'.format(v) for v in yticks])
        ax.tick_params(axis='y', length=2, width=0.8, labelsize=7, pad=1)
        for sp in ax.spines.values():
            sp.set_linewidth(1.0)
        ax.spines['top'].set_linewidth(1.8)
    # sub-panel letter on top of the traces
    lx, ly = letter_pos[s]
    fig.text(lx / W, 1 - ly / H, s, fontsize=66, ha='center', va='center', family=['Lato', 'DejaVu Sans'],
             zorder=10)

# ---------- panel D ----------
axd = fig.add_axes(box(116.8, 1325, 1201.6, 1528.3))
xs = np.arange(len(chim_dates))
axd.plot(xs, chim_values, color='black', lw=8, marker='o', markersize=29, zorder=3, clip_on=False)
axd.set_xlim(-0.5, 8.5)
axd.set_ylim(0, 150)
axd.set_yticks([0, 50, 100, 150])
axd.set_xticks(xs)
axd.set_xticklabels(chim_dates, fontsize=52, fontweight='bold')
for t in axd.get_yticklabels():
    t.set_fontsize(42)
    t.set_fontweight('bold')
axd.spines['top'].set_visible(False)
axd.spines['right'].set_visible(False)
axd.spines['left'].set_linewidth(5)
axd.spines['bottom'].set_linewidth(5)
axd.tick_params(axis='y', length=25, width=5, pad=10)
axd.tick_params(axis='x', length=28, width=3, pad=16)
axd.patch.set_alpha(0)
bg.text(36.5, 1430, 'Chimerism analysis %', rotation=90, ha='center', va='center', fontsize=56, fontweight='bold')

fig.savefig('out.png', dpi=100)
